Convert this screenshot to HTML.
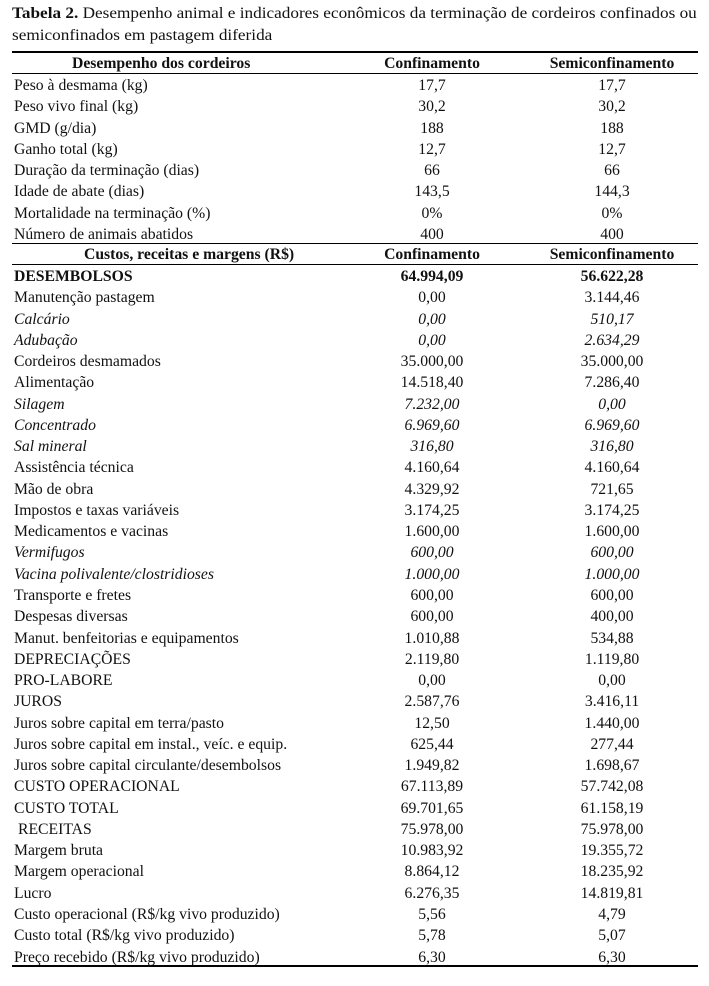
<!DOCTYPE html>
<html><head><meta charset="utf-8">
<style>
body{margin:0;width:709px;height:986px;background:#fff;position:relative;font-family:"Liberation Serif","Times New Roman",serif;font-size:15.7px;color:#111;overflow:hidden}
.t{position:absolute;left:12px;white-space:nowrap;font-size:16px;transform-origin:0 0;transform:scaleX(1.075)}
.line{position:absolute;left:12px;width:686px;height:1px;background:#000}
.sec{position:absolute;left:12px;width:686px}
.r{height:21.27px;line-height:23px;position:relative;white-space:nowrap}
.r span{position:absolute}
.a{left:2px}
.b{left:420px;width:0;display:flex;justify-content:center}
.c{left:600px;width:0;display:flex;justify-content:center}
.h{font-weight:bold}
.i{font-style:italic}
</style></head><body>
<div class="t" style="top:5px"><b>Tabela 2.</b> Desempenho animal e indicadores econômicos da terminação de cordeiros confinados ou</div>
<div class="t" style="top:27px">semiconfinados em pastagem diferida</div>
<div class="line" style="top:51px;height:1.5px"></div>
<div class="line" style="top:73px"></div>
<div class="line" style="top:243px"></div>
<div class="line" style="top:264px"></div>
<div class="line" style="top:965px;height:1.5px"></div>

<div class="sec" style="top:52px">
<div class="r h"><span class="a" style="left:60px">Desempenho dos cordeiros</span><span class="b">Confinamento</span><span class="c">Semiconfinamento</span></div>
</div>
<div class="sec" style="top:74px">
<div class="r"><span class="a">Peso à desmama (kg)</span><span class="b">17,7</span><span class="c">17,7</span></div>
<div class="r"><span class="a">Peso vivo final (kg)</span><span class="b">30,2</span><span class="c">30,2</span></div>
<div class="r"><span class="a">GMD (g/dia)</span><span class="b">188</span><span class="c">188</span></div>
<div class="r"><span class="a">Ganho total (kg)</span><span class="b">12,7</span><span class="c">12,7</span></div>
<div class="r"><span class="a">Duração da terminação (dias)</span><span class="b">66</span><span class="c">66</span></div>
<div class="r"><span class="a">Idade de abate (dias)</span><span class="b">143,5</span><span class="c">144,3</span></div>
<div class="r"><span class="a">Mortalidade na terminação (%)</span><span class="b">0%</span><span class="c">0%</span></div>
<div class="r"><span class="a">Número de animais abatidos</span><span class="b">400</span><span class="c">400</span></div>
</div>
<div class="sec" style="top:243px">
<div class="r h"><span class="a" style="left:72px">Custos, receitas e margens (R$)</span><span class="b">Confinamento</span><span class="c">Semiconfinamento</span></div>
</div>
<div class="sec" style="top:265px">
<div class="r h"><span class="a">DESEMBOLSOS</span><span class="b">64.994,09</span><span class="c">56.622,28</span></div>
<div class="r"><span class="a">Manutenção pastagem</span><span class="b">0,00</span><span class="c">3.144,46</span></div>
<div class="r i"><span class="a">Calcário</span><span class="b">0,00</span><span class="c">510,17</span></div>
<div class="r i"><span class="a">Adubação</span><span class="b">0,00</span><span class="c">2.634,29</span></div>
<div class="r"><span class="a">Cordeiros desmamados</span><span class="b">35.000,00</span><span class="c">35.000,00</span></div>
<div class="r"><span class="a">Alimentação</span><span class="b">14.518,40</span><span class="c">7.286,40</span></div>
<div class="r i"><span class="a">Silagem</span><span class="b">7.232,00</span><span class="c">0,00</span></div>
<div class="r i"><span class="a">Concentrado</span><span class="b">6.969,60</span><span class="c">6.969,60</span></div>
<div class="r i"><span class="a">Sal mineral</span><span class="b">316,80</span><span class="c">316,80</span></div>
<div class="r"><span class="a">Assistência técnica</span><span class="b">4.160,64</span><span class="c">4.160,64</span></div>
<div class="r"><span class="a">Mão de obra</span><span class="b">4.329,92</span><span class="c">721,65</span></div>
<div class="r"><span class="a">Impostos e taxas variáveis</span><span class="b">3.174,25</span><span class="c">3.174,25</span></div>
<div class="r"><span class="a">Medicamentos e vacinas</span><span class="b">1.600,00</span><span class="c">1.600,00</span></div>
<div class="r i"><span class="a">Vermifugos</span><span class="b">600,00</span><span class="c">600,00</span></div>
<div class="r i"><span class="a">Vacina polivalente/clostridioses</span><span class="b">1.000,00</span><span class="c">1.000,00</span></div>
<div class="r"><span class="a">Transporte e fretes</span><span class="b">600,00</span><span class="c">600,00</span></div>
<div class="r"><span class="a">Despesas diversas</span><span class="b">600,00</span><span class="c">400,00</span></div>
<div class="r"><span class="a">Manut. benfeitorias e equipamentos</span><span class="b">1.010,88</span><span class="c">534,88</span></div>
<div class="r"><span class="a">DEPRECIAÇÕES</span><span class="b">2.119,80</span><span class="c">1.119,80</span></div>
<div class="r"><span class="a">PRO-LABORE</span><span class="b">0,00</span><span class="c">0,00</span></div>
<div class="r"><span class="a">JUROS</span><span class="b">2.587,76</span><span class="c">3.416,11</span></div>
<div class="r"><span class="a">Juros sobre capital em terra/pasto</span><span class="b">12,50</span><span class="c">1.440,00</span></div>
<div class="r"><span class="a">Juros sobre capital em instal., veíc. e equip.</span><span class="b">625,44</span><span class="c">277,44</span></div>
<div class="r"><span class="a">Juros sobre capital circulante/desembolsos</span><span class="b">1.949,82</span><span class="c">1.698,67</span></div>
<div class="r"><span class="a">CUSTO OPERACIONAL</span><span class="b">67.113,89</span><span class="c">57.742,08</span></div>
<div class="r"><span class="a">CUSTO TOTAL</span><span class="b">69.701,65</span><span class="c">61.158,19</span></div>
<div class="r"><span class="a" style="left:6px">RECEITAS</span><span class="b">75.978,00</span><span class="c">75.978,00</span></div>
<div class="r"><span class="a">Margem bruta</span><span class="b">10.983,92</span><span class="c">19.355,72</span></div>
<div class="r"><span class="a">Margem operacional</span><span class="b">8.864,12</span><span class="c">18.235,92</span></div>
<div class="r"><span class="a">Lucro</span><span class="b">6.276,35</span><span class="c">14.819,81</span></div>
<div class="r"><span class="a">Custo operacional (R$/kg vivo produzido)</span><span class="b">5,56</span><span class="c">4,79</span></div>
<div class="r"><span class="a">Custo total (R$/kg vivo produzido)</span><span class="b">5,78</span><span class="c">5,07</span></div>
<div class="r"><span class="a">Preço recebido (R$/kg vivo produzido)</span><span class="b">6,30</span><span class="c">6,30</span></div>
</div>
</body></html>
